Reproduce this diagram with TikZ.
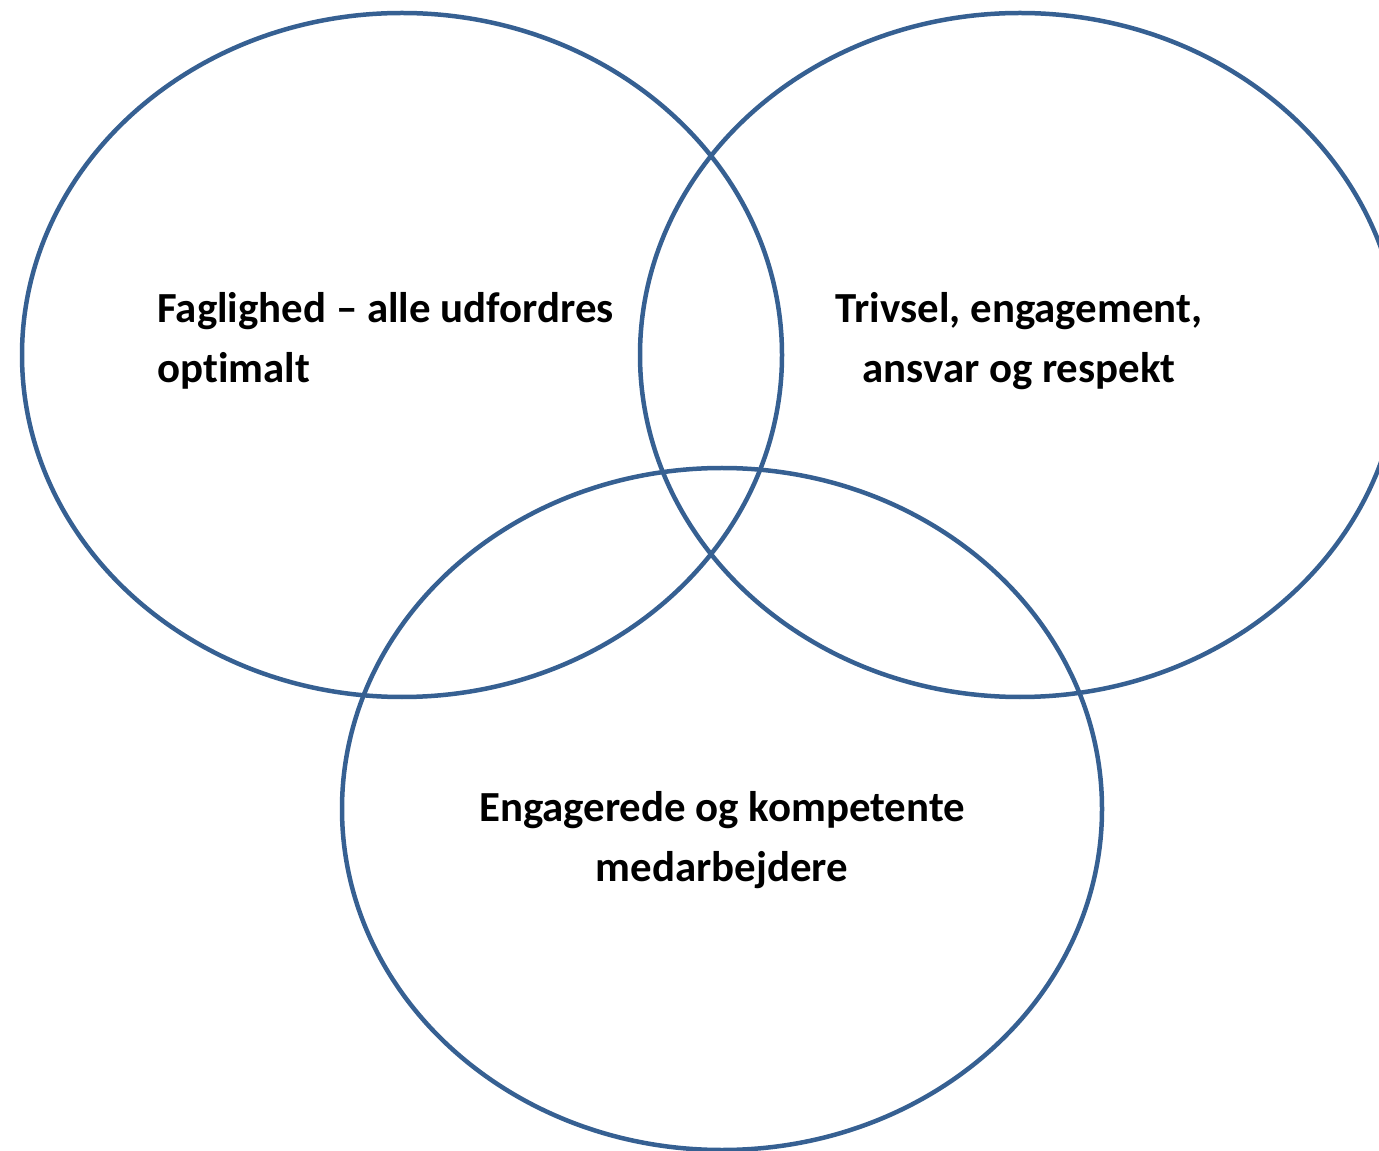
\documentclass[tikz,border=0pt]{standalone}
\usepackage{fontspec}
\setmainfont{Carlito}[Ligatures={NoCommon}]
\tikzset{
  ring/.style={draw=ringblue, line width=0.09cm},
  label/.style={font=\bfseries\fontsize{24.4}{34.2}\selectfont, inner sep=0pt}
}
\definecolor{ringblue}{RGB}{54,96,146}
\begin{document}
\begin{tikzpicture}[x=0.02cm, y=-0.02cm]
\useasboundingbox (0,0) rectangle (1379,1151);
\draw[ring] (402,355) ellipse [x radius=380, y radius=342];
\draw[ring] (1020,355) ellipse [x radius=380, y radius=342];
\draw[ring] (722,809) ellipse [x radius=380, y radius=341];
\node[label, align=left, anchor=west] (faglighed) at (157,341) {Faglighed -- alle udfordres\\optimalt};
\node[label, align=center] (trivsel) at (1019,341) {Trivsel, engagement,\\ansvar og respekt};
\node[label, align=center] (medarb) at (722,840) {Engagerede og kompetente\\medarbejdere};
\end{tikzpicture}
\end{document}
